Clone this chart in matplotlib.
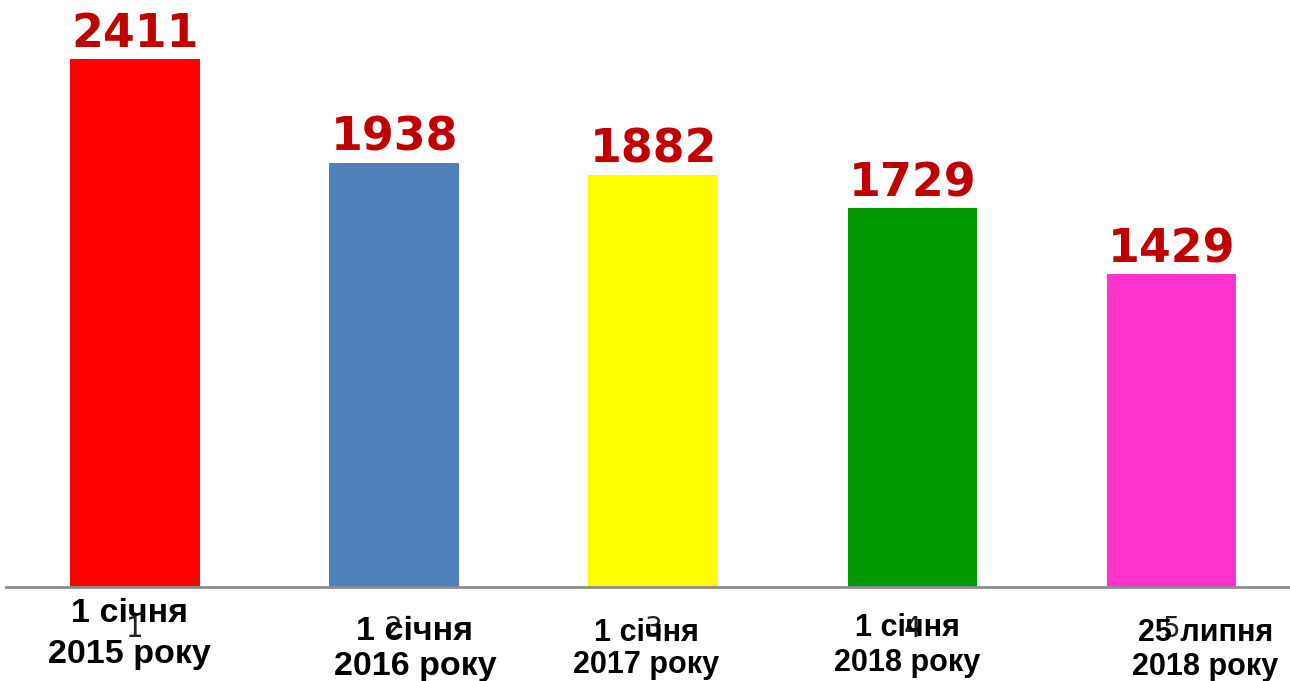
import matplotlib
matplotlib.use("Agg")
import matplotlib.pyplot as plt

# data
categories = ["1", "2", "3", "4", "5"]
values = [2411, 1938, 1882, 1729, 1429]
date_lines = [
    ("1 січня", "2015 року"),
    ("1 січня", "2016 року"),
    ("1 січня", "2017 року"),
    ("1 січня", "2018 року"),
    ("25 липня", "2018 року"),
]
bar_colors = ["#FF0000", "#4F81BD", "#FFFF00", "#009900", "#FF33CC"]

# layout of the bold date labels: x shift (data), line centres below baseline (px), size
label_dx = [-0.02, 0.08, -0.026, -0.02, 0.13]
label_dy = [(-27, -68), (-45, -79), (-46, -78), (-41, -76), (-46, -80)]
label_size = [24.5, 24.5, 22, 22, 22]

W, H = 1290, 681
fig = plt.figure(figsize=(W / 100, H / 100), dpi=100)
base_y = 587
left_px, right_px = 5.5, 1301
ax = fig.add_axes([left_px / W, (H - base_y) / H, (right_px - left_px) / W, base_y / H])

x = list(range(len(values)))
ax.bar(x, values, width=0.5, color=bar_colors, zorder=2)
ax.set_xlim(-0.5, 4.5)
ax.set_ylim(0, base_y / (528 / 2411))

for s in ("top", "right", "left"):
    ax.spines[s].set_visible(False)
ax.spines["bottom"].set_color("#8c8c8c")
ax.spines["bottom"].set_linewidth(2)
ax.set_yticks([])
ax.set_xticks(x)
ax.set_xticklabels(categories, fontsize=20, color="#222222", family="DejaVu Sans")
ax.tick_params(axis="x", length=0, pad=20)

for xi, v in zip(x, values):
    ax.annotate(str(v), (xi, v), xytext=(0, 12), textcoords="offset pixels",
                ha="center", va="baseline", fontsize=33, fontweight="bold",
                color="#C00000", family="DejaVu Sans")

for xi, lines, dx, dys, fs in zip(x, date_lines, label_dx, label_dy, label_size):
    for line, dy in zip(lines, dys):
        ax.annotate(line, (xi + dx, 0), xytext=(0, dy), textcoords="offset pixels",
                    ha="center", va="center", fontsize=fs, fontweight="bold",
                    color="black", family="Liberation Sans", annotation_clip=False)

fig.savefig("out.png", dpi=100)
